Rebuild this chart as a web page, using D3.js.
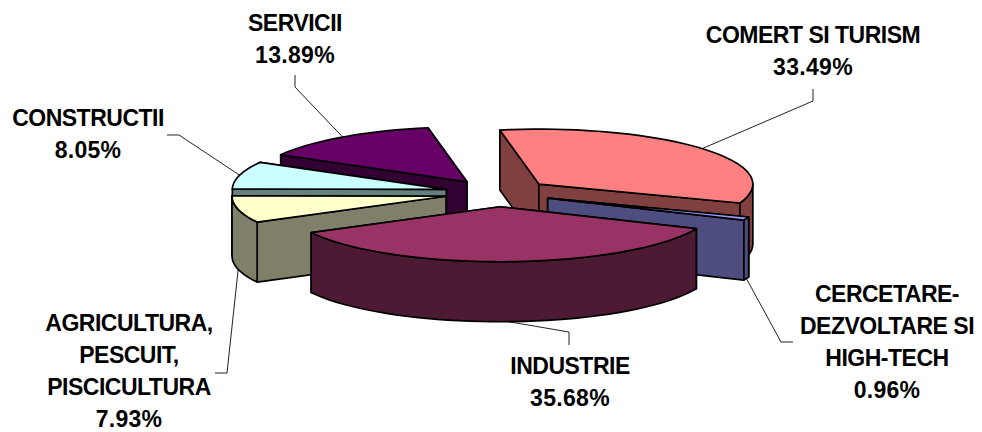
<!DOCTYPE html>
<html>
<head>
<meta charset="utf-8">
<style>
html,body{margin:0;padding:0;background:#fff}
svg{display:block}
text{font-family:"Liberation Sans",Arial,sans-serif;font-weight:700;fill:#000;text-anchor:middle}
</style>
<script src="https://cdn.jsdelivr.net/npm/d3@7"></script>
</head>
<body>
<svg id="chart" width="982" height="432"></svg>
<script>
// Data, clockwise from the first slice
const categories = ["COMERT SI TURISM","CERCETARE-DEZVOLTARE SI HIGH-TECH","INDUSTRIE","AGRICULTURA, PESCUIT, PISCICULTURA","CONSTRUCTII","SERVICII"];
const values = [33.49,0.96,35.68,7.93,8.05,13.89];
const pctLabels = ["33.49%","0.96%","35.68%","7.93%","8.05%","13.89%"];
const nameLines = [
  ["COMERT SI TURISM"],
  ["CERCETARE-","DEZVOLTARE SI","HIGH-TECH"],
  ["INDUSTRIE"],
  ["AGRICULTURA,","PESCUIT,","PISCICULTURA"],
  ["CONSTRUCTII"],
  ["SERVICII"]
];
const topColors  = ["#ff8080","#9999ff","#993366","#ffffcc","#ccffff","#660066"];
const sideColors = ["#804040","#4d4d80","#4d1a33","#80806a","#668080","#330033"];

// Layout
const cx = 498, cy = 193, rx = 214, ry = 55, depth = 60, explode = 0.25;
const startDeg = -10.5;
const drawOrder = [5,0,4,3,1,2];           // back to front
// label: text centre, first baseline; leader: points from label to elbow
const labelLayout = [
  {x:813, y:43,  elbow:[[813,89],[813,101]]},
  {x:887, y:302, elbow:[[793,342],[781,342]]},
  {x:570, y:374, elbow:[[569,345],[569,332]]},
  {x:129, y:331, elbow:[[215,373],[227,373]]},
  {x:88,  y:126, elbow:[[167,135],[179,135]]},
  {x:295, y:31,  elbow:[[295,75],[295,87]]}
];
const lineH = 32;

const rad = d => d * Math.PI / 180;
const pie = d3.pie().sort(null).startAngle(rad(startDeg)).endAngle(rad(startDeg + 360));
const arcs = pie(values);

const svg = d3.select("#chart");
const line = d3.line();

// flat-angle → projected position
const sx = d3.scaleLinear().domain([-1,1]).range([-rx,rx]);
const sy = d3.scaleLinear().domain([-1,1]).range([-ry,ry]);
const apex = a => {
  const m = (a.startAngle + a.endAngle) / 2;
  return [cx + explode * sx(Math.sin(m)), cy - explode * sy(Math.cos(m))];
};
const rim = (a, t, dz = 0) => {
  const o = apex(a);
  return [o[0] + sx(Math.sin(t)), o[1] - sy(Math.cos(t)) + dz];
};
const arcPts = (a, t0, t1, dz = 0) => {
  const n = Math.max(2, Math.ceil(Math.abs(t1 - t0) / rad(3)));
  return d3.range(n + 1).map(i => rim(a, t0 + (t1 - t0) * i / n, dz));
};

// Leaders under the pie
const leaders = svg.append("g").attr("fill","none").attr("stroke","#222").attr("stroke-width",1);
arcs.forEach((a,i) => {
  const m = (a.startAngle + a.endAngle) / 2;
  const front = Math.cos(m) < 0 && Math.sin(m) !== 0 && rim(a,m)[1] > apex(a)[1];
  const anchor = rim(a, m, front ? depth : 0);
  leaders.append("path").attr("d", line([...labelLayout[i].elbow, anchor]));
});

// Slices
const pieG = svg.append("g").attr("stroke","#000").attr("stroke-width",1.7).attr("stroke-linejoin","round");
drawOrder.forEach(i => {
  const a = arcs[i], o = apex(a);
  const g = pieG.append("g");
  const wall = t => {
    const p = rim(a,t), q = rim(a,t,depth);
    return line([o, p, q, [o[0], o[1] + depth]]) + "Z";
  };
  const startVisible = Math.sin(a.startAngle) < 0;
  const endVisible = Math.sin(a.endAngle) > 0;
  const walls = [[a.startAngle,startVisible],[a.endAngle,endVisible]].sort((p,q) => p[1]-q[1]);
  walls.forEach(w => g.append("path").attr("d", wall(w[0])).attr("fill", sideColors[i]));
  // rim wall: the portion facing the viewer (90°..270°)
  const lo = Math.max(a.startAngle, rad(90)), hi = Math.min(a.endAngle, rad(270));
  if (hi > lo) {
    const pts = arcPts(a, lo, hi).concat(arcPts(a, hi, lo, depth));
    g.append("path").attr("d", line(pts) + "Z").attr("fill", sideColors[i]);
  }
  // top face
  g.append("path").attr("d", line([o, ...arcPts(a, a.startAngle, a.endAngle)]) + "Z").attr("fill", topColors[i]);
});

// Labels
const labels = svg.append("g").attr("font-size", 23);
arcs.forEach((a,i) => {
  const L = labelLayout[i];
  nameLines[i].forEach((t,k) => {
    labels.append("text").attr("x",L.x).attr("y",L.y + k*lineH).attr("letter-spacing","-0.5").text(t);
  });
  labels.append("text").attr("x",L.x).attr("y",L.y + nameLines[i].length*lineH).attr("letter-spacing","0.3").text(pctLabels[i]);
});
</script>
</body>
</html>
